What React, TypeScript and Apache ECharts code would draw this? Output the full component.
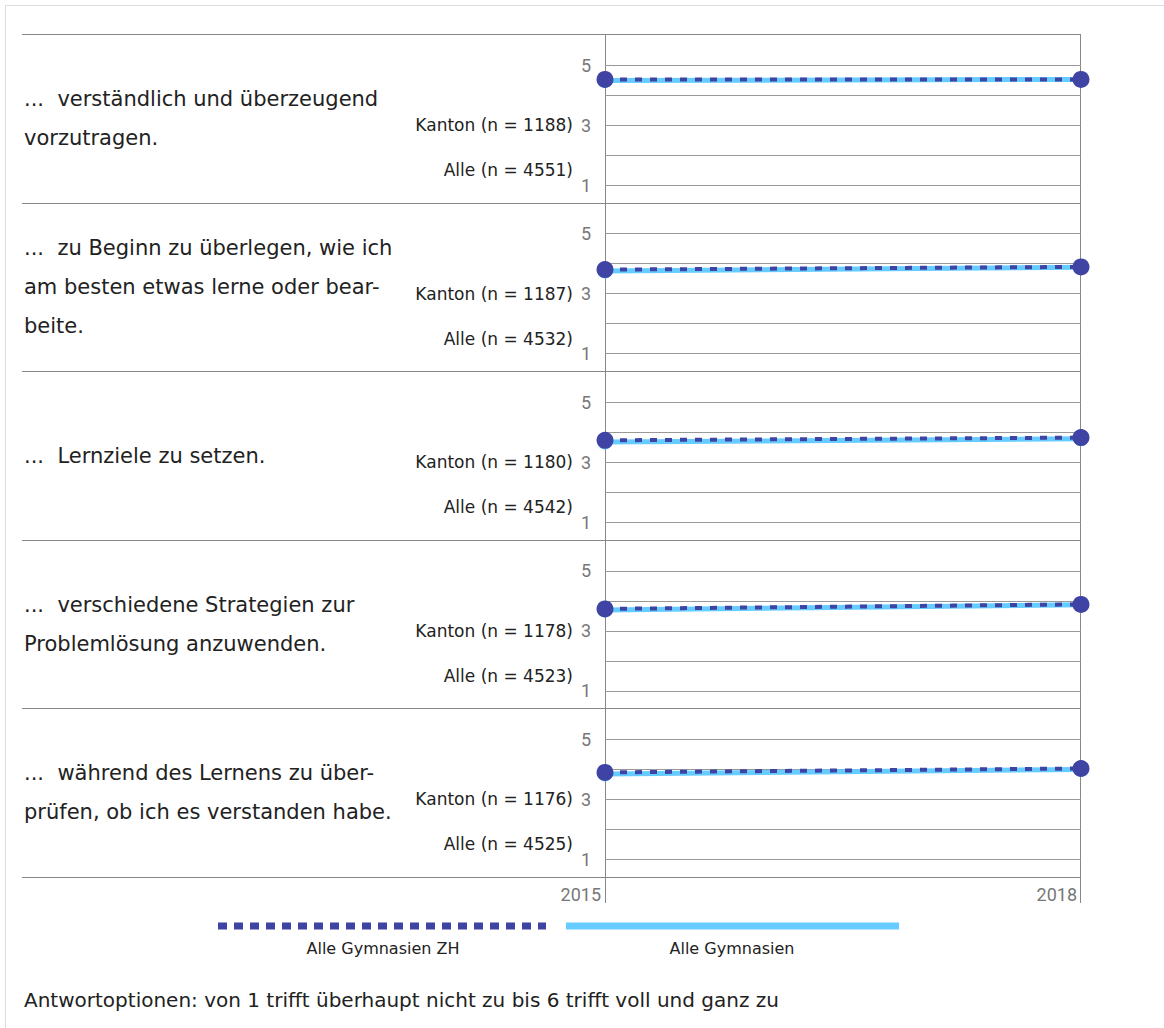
import React, { useEffect, useRef } from "react";
import * as echarts from "echarts";

const years = ["2015", "2018"];
const questions: string[][] = [
  ["...  verständlich und überzeugend", "vorzutragen."],
  ["...  zu Beginn zu überlegen, wie ich", "am besten etwas lerne oder bear-", "beite."],
  ["...  Lernziele zu setzen."],
  ["...  verschiedene Strategien zur", "Problemlösung anzuwenden."],
  ["...  während des Lernens zu über-", "prüfen, ob ich es verstanden habe."],
];
const kantonN = [1188, 1187, 1180, 1178, 1176];
const alleN = [4551, 4532, 4542, 4523, 4525];
// Alle Gymnasien ZH (Kanton)
const kantonValues = [
  [4.52, 4.52],
  [3.8, 3.89],
  [3.73, 3.82],
  [3.73, 3.88],
  [3.9, 4.03],
];
// Alle Gymnasien
const alleValues = [
  [4.48, 4.52],
  [3.75, 3.88],
  [3.67, 3.78],
  [3.69, 3.87],
  [3.85, 4.0],
];
const legendNames = ["Alle Gymnasien ZH", "Alle Gymnasien"];
const footnote = "Antwortoptionen: von 1 trifft überhaupt nicht zu bis 6 trifft voll und ganz zu";

const FONT = "Roboto, 'Noto Sans', sans-serif";
const TFONT = "'DejaVu Sans', 'Noto Sans', sans-serif";
const DARK = "#3F43A3";
const CYAN = "#66CCFF";

export default function App() {
  const ref = useRef<HTMLDivElement>(null);
  useEffect(() => {
    if (!ref.current) return;
    const chart = echarts.init(ref.current, null, { renderer: "svg" });

    const panelTop0 = 34;
    const panelH = 168.6;
    const plotLeft = 605;
    const plotRight = 1081;
    const gridOffset = 31; // value 5 line below panel top
    const gridH = 120; // from 5 to 1

    const n = questions.length;
    const grids: any[] = [];
    const xAxes: any[] = [];
    const yAxes: any[] = [];
    const series: any[] = [];
    const graphics: any[] = [];

    const txt = (text: string, x: number, y: number, size: number, align: string, font = TFONT, fill = "#222") => ({
      type: "text",
      x,
      y,
      silent: true,
      style: {
        text,
        fill,
        fontSize: size,
        fontFamily: font,
        align,
        verticalAlign: "middle",
        textAlign: align,
        textVerticalAlign: "middle",
      },
    });

    // outer frame
    graphics.push({
      type: "rect",
      shape: { x: 5.5, y: 5.5, width: 1400, height: 1400 },
      style: { fill: "none", stroke: "#dddddd", lineWidth: 1 },
      silent: true,
    });

    for (let k = 0; k < n; k++) {
      const T = panelTop0 + k * panelH;
      grids.push({
        left: plotLeft,
        width: plotRight - plotLeft,
        top: T + gridOffset,
        height: gridH,
        containLabel: false,
      });
      xAxes.push({
        type: "category",
        gridIndex: k,
        data: years,
        boundaryGap: false,
        axisLine: { show: false },
        axisTick: { show: false },
        splitLine: { show: false },
        axisLabel:
          k === n - 1
            ? {
                show: true,
                align: "right",
                padding: [0, 4, 0, 0],
                margin: 26,
                color: "#777",
                fontSize: 18,
                fontFamily: FONT,
              }
            : { show: false },
      });
      yAxes.push({
        type: "value",
        gridIndex: k,
        min: 1,
        max: 5,
        interval: 1,
        axisLine: { show: false },
        axisTick: { show: false },
        splitLine: { show: true, lineStyle: { color: "#999", width: 1 } },
        axisLabel: {
          color: "#777",
          fontSize: 18,
          fontFamily: FONT,
          margin: 14,
          formatter: (v: number) => (v % 2 === 1 ? String(v) : ""),
        },
      });
      series.push({
        type: "line",
        name: legendNames[1],
        xAxisIndex: k,
        yAxisIndex: k,
        data: alleValues[k],
        symbol: "circle",
        symbolSize: 15,
        itemStyle: { color: CYAN },
        lineStyle: { color: CYAN, width: 5 },
        z: 3,
      });
      series.push({
        type: "line",
        name: legendNames[0],
        xAxisIndex: k,
        yAxisIndex: k,
        data: kantonValues[k],
        symbol: "circle",
        symbolSize: 17,
        itemStyle: { color: DARK },
        lineStyle: { color: DARK, width: 4, type: [7, 8] },
        z: 4,
      });

      // question text
      const lines = questions[k];
      const lh = 39;
      const center = T + panelH / 2;
      lines.forEach((t, i) => {
        graphics.push(txt(t, 24, center + (i - (lines.length - 1) / 2) * lh, 21, "left"));
      });
      // n labels
      graphics.push(txt(`Kanton (n = ${kantonN[k]})`, 573, T + gridOffset + 2 * (gridH / 4), 17, "right"));
      graphics.push(txt(`Alle (n = ${alleN[k]})`, 573, T + gridOffset + 3.5 * (gridH / 4), 17, "right"));
    }

    // separators
    for (let k = 0; k <= n; k++) {
      const y = Math.round(panelTop0 + k * panelH) + 0.5;
      graphics.push({
        type: "line",
        shape: { x1: 22, y1: y, x2: plotRight, y2: y },
        style: { stroke: "#888", lineWidth: 1 },
        silent: true,
      });
    }
    const bottomY = panelTop0 + n * panelH;
    // vertical axis lines with year ticks
    [plotLeft + 0.5, plotRight - 0.5].forEach((x) => {
      graphics.push({
        type: "line",
        shape: { x1: x, y1: panelTop0, x2: x, y2: bottomY + 26 },
        style: { stroke: "#888", lineWidth: 1 },
        silent: true,
      });
    });

    // legend
    graphics.push({
      type: "line",
      shape: { x1: 218, y1: 926, x2: 546, y2: 926 },
      style: { stroke: DARK, lineWidth: 7, lineDash: [9, 7] },
      silent: true,
    });
    graphics.push({
      type: "line",
      shape: { x1: 566, y1: 926, x2: 899, y2: 926 },
      style: { stroke: CYAN, lineWidth: 7 },
      silent: true,
    });
    graphics.push(txt(legendNames[0], 383, 948, 16, "center"));
    graphics.push(txt(legendNames[1], 732, 948, 16, "center"));

    graphics.push(txt(footnote, 24, 1000, 20, "left"));

    chart.setOption({
      animation: false,
      backgroundColor: "#ffffff",
      textStyle: { fontFamily: FONT },
      grid: grids,
      xAxis: xAxes,
      yAxis: yAxes,
      series,
      graphic: { elements: graphics },
    });

    return () => chart.dispose();
  }, []);

  return (
    <div
      ref={ref}
      style={{ position: "fixed", left: 0, top: 0, width: 1164, height: 1028 }}
    />
  );
}
